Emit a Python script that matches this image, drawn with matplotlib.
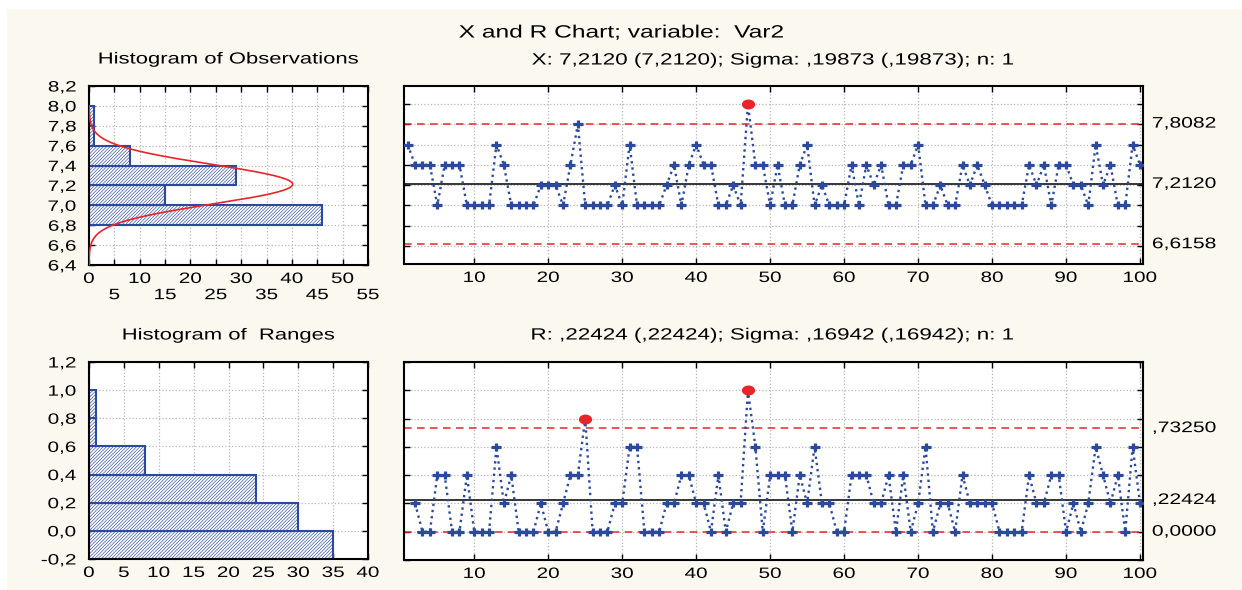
import numpy as np
import matplotlib.pyplot as plt
from matplotlib.patches import Rectangle
from matplotlib.path import Path
from matplotlib.patheffects import AbstractPathEffect
from matplotlib.ticker import FuncFormatter, MultipleLocator
import matplotlib.transforms as mtransforms

plt.rcParams['font.family'] = ['Liberation Sans', 'DejaVu Sans']
plt.rcParams['hatch.linewidth'] = 0.45

# individual observations, samples 1..100
samples = np.arange(1, 101)
values = [7.6, 7.4, 7.4, 7.4, 7.0, 7.4, 7.4, 7.4, 7.0, 7.0,
          7.0, 7.0, 7.6, 7.4, 7.0, 7.0, 7.0, 7.0, 7.2, 7.2,
          7.2, 7.0, 7.4, 7.8, 7.0, 7.0, 7.0, 7.0, 7.2, 7.0,
          7.6, 7.0, 7.0, 7.0, 7.0, 7.2, 7.4, 7.0, 7.4, 7.6,
          7.4, 7.4, 7.0, 7.0, 7.2, 7.0, 8.0, 7.4, 7.4, 7.0,
          7.4, 7.0, 7.0, 7.4, 7.6, 7.0, 7.2, 7.0, 7.0, 7.0,
          7.4, 7.0, 7.4, 7.2, 7.4, 7.0, 7.0, 7.4, 7.4, 7.6,
          7.0, 7.0, 7.2, 7.0, 7.0, 7.4, 7.2, 7.4, 7.2, 7.0,
          7.0, 7.0, 7.0, 7.0, 7.4, 7.2, 7.4, 7.0, 7.4, 7.4,
          7.2, 7.2, 7.0, 7.6, 7.2, 7.4, 7.0, 7.0, 7.6, 7.4]

# moving ranges, samples 2..100
range_samples = np.arange(2, 101)
ranges = [0.2, 0.0, 0.0, 0.4, 0.4, 0.0, 0.0, 0.4, 0.0,
          0.0, 0.0, 0.6, 0.2, 0.4, 0.0, 0.0, 0.0, 0.2, 0.0,
          0.0, 0.2, 0.4, 0.4, 0.8, 0.0, 0.0, 0.0, 0.2, 0.2,
          0.6, 0.6, 0.0, 0.0, 0.0, 0.2, 0.2, 0.4, 0.4, 0.2,
          0.2, 0.0, 0.4, 0.0, 0.2, 0.2, 1.0, 0.6, 0.0, 0.4,
          0.4, 0.4, 0.0, 0.4, 0.2, 0.6, 0.2, 0.2, 0.0, 0.0,
          0.4, 0.4, 0.4, 0.2, 0.2, 0.4, 0.0, 0.4, 0.0, 0.2,
          0.6, 0.0, 0.2, 0.2, 0.0, 0.4, 0.2, 0.2, 0.2, 0.2,
          0.0, 0.0, 0.0, 0.0, 0.4, 0.2, 0.2, 0.4, 0.4, 0.0,
          0.2, 0.0, 0.2, 0.6, 0.4, 0.2, 0.4, 0.0, 0.6, 0.2]

x_center, x_ucl, x_lcl = 7.2120, 7.8082, 6.6158
x_sigma = 0.19873
r_center, r_ucl, r_lcl = 0.22424, 0.73250, 0.0
x_limit_labels = ['7,8082', '7,2120', '6,6158']
r_limit_labels = [',73250', ',22424', '0,0000']

obs_bins = [6.8, 7.0, 7.2, 7.4, 7.6, 7.8]
obs_counts = [46, 15, 29, 8, 1, 1]
range_bins = [-0.2, 0.0, 0.2, 0.4, 0.6, 0.8]
range_counts = [35, 30, 24, 8, 1, 1]

BLUE = '#2B4A9E'
RED = '#E8262A'
CREAM = '#FBF8F0'
GRID = '#B8B8B8'
W, H = 1242, 590
SX = 1.38  # the original screenshot is stretched sideways


class Stretch(AbstractPathEffect):
    """widen a text around its anchor point"""
    def __init__(self, text, sx=SX):
        super().__init__()
        self.text = text
        self.sx = sx

    def draw_path(self, renderer, gc, tpath, affine, rgbFace=None):
        t = self.text
        cx, _ = t.get_transform().transform(t.get_unitless_position())
        widen = mtransforms.Affine2D().translate(-cx, 0).scale(self.sx, 1).translate(cx, 0)
        renderer.draw_path(gc, tpath, affine + widen, rgbFace)


def wide(t):
    t.set_path_effects([Stretch(t)])
    return t


plus_marker = Path([(-SX, 0), (SX, 0), (0, -1), (0, 1)],
                   [Path.MOVETO, Path.LINETO, Path.MOVETO, Path.LINETO])
circ = Path.unit_circle()
dot_marker = Path(circ.vertices * [SX, 1], circ.codes)

fig = plt.figure(figsize=(W / 100, H / 100), dpi=100, facecolor='white')
fig.patches.append(Rectangle((7 / W, 0), 1 - 7 / W, 1 - 9 / H, transform=fig.transFigure,
                             facecolor=CREAM, edgecolor='none', zorder=-10))


def box(l, r, t, b):
    return [l / W, 1 - b / H, (r - l) / W, (b - t) / H]


comma = FuncFormatter(lambda v, p: f"{round(v, 1) + 0.0:.1f}".replace('.', ','))


def style(ax):
    ax.set_facecolor('white')
    for s in ax.spines.values():
        s.set_linewidth(1.5)
        s.set_color('black')
    ax.tick_params(direction='in', length=4, width=1, top=True, right=True,
                   left=True, bottom=True, labelsize=10.8, pad=5)
    ax.tick_params(axis='y', pad=9)
    ax.grid(True, color=GRID, ls=':', lw=0.9)
    ax.set_axisbelow(True)


def control_chart(ax, xs, ys, center, ucl, lcl, labels):
    style(ax)
    ys = np.array(ys)
    ax.axhline(center, color='black', lw=1.1, zorder=2)
    ax.axhline(ucl, color=RED, lw=1.1, ls=(0, (5, 3.5)), zorder=2)
    ax.axhline(lcl, color=RED, lw=1.1, ls=(0, (5, 3.5)), zorder=2)
    ax.plot(xs, ys, color=BLUE, ls=':', lw=1.7, zorder=3)
    out = ys > ucl
    ax.plot(xs[~out], ys[~out], ls='none', marker=plus_marker, ms=7.8, mew=2.3, color=BLUE, zorder=4)
    ax.plot(xs[out], ys[out], ls='none', marker=dot_marker, ms=8.5, color=RED, mec=RED, zorder=5)
    ax.set_xlim(0.5, 100.4)
    ax.set_xticks(np.arange(10, 101, 10))
    ax.tick_params(labelleft=False)
    trans = mtransforms.blended_transform_factory(ax.transAxes, ax.transData)
    for v, lab in zip([ucl, center, lcl], labels):
        wide(ax.text(1.012, v, lab, transform=trans, ha='left', va='center', fontsize=11))


# X chart
ax_x = fig.add_axes(box(404, 1143, 86, 264))
control_chart(ax_x, samples, values, x_center, x_ucl, x_lcl, x_limit_labels)
ax_x.set_ylim(6.42, 8.18)
ax_x.yaxis.set_major_locator(MultipleLocator(0.2))

# R chart
ax_r = fig.add_axes(box(404, 1143, 362, 560))
control_chart(ax_r, range_samples, ranges, r_center, r_ucl, r_lcl, r_limit_labels)
ax_r.set_ylim(-0.2, 1.2)
ax_r.yaxis.set_major_locator(MultipleLocator(0.2))

# histogram of observations with fitted normal curve
ax_ho = fig.add_axes(box(89, 368, 86, 265))
style(ax_ho)
ax_ho.barh(obs_bins, obs_counts, height=0.2, align='edge', color='white',
           edgecolor=BLUE, hatch='//////////', lw=1.5, zorder=2)
yy = np.linspace(6.4, 8.0, 300)
curve = 100 * 0.2 / (x_sigma * np.sqrt(2 * np.pi)) * np.exp(-0.5 * ((yy - x_center) / x_sigma) ** 2)
ax_ho.plot(curve, yy, color=RED, lw=1.2, zorder=3)
ax_ho.set_xlim(0, 55)
ax_ho.set_ylim(6.4, 8.2)
ax_ho.yaxis.set_major_locator(MultipleLocator(0.2))
ax_ho.yaxis.set_major_formatter(comma)
ticks = np.arange(0, 56, 5)
ax_ho.set_xticks(ticks)
ax_ho.set_xticklabels([str(t) if i % 2 == 0 else '\n' + str(t) for i, t in enumerate(ticks)])

# histogram of ranges
ax_hr = fig.add_axes(box(89, 368, 362, 559))
style(ax_hr)
ax_hr.barh(range_bins, range_counts, height=0.2, align='edge', color='white',
           edgecolor=BLUE, hatch='//////////', lw=1.5, zorder=2)
ax_hr.set_xlim(0, 40)
ax_hr.set_ylim(-0.2, 1.2)
ax_hr.xaxis.set_major_locator(MultipleLocator(5))
ax_hr.yaxis.set_major_locator(MultipleLocator(0.2))
ax_hr.yaxis.set_major_formatter(comma)

for ax in (ax_x, ax_r, ax_ho, ax_hr):
    for lab in ax.get_xticklabels() + ax.get_yticklabels():
        wide(lab)

# titles
wide(fig.text(0.5, 1 - 33 / H, 'X and R Chart; variable:  Var2', ha='center', va='center', fontsize=12.8))
wide(fig.text((404 + 1143) / 2 / W, 1 - 60 / H, 'X: 7,2120 (7,2120); Sigma: ,19873 (,19873); n: 1',
              ha='center', va='center', fontsize=11.7))
wide(fig.text((89 + 368) / 2 / W, 1 - 59 / H, 'Histogram of Observations',
              ha='center', va='center', fontsize=11.5))
wide(fig.text((404 + 1143) / 2 / W, 1 - 335 / H, 'R: ,22424 (,22424); Sigma: ,16942 (,16942); n: 1',
              ha='center', va='center', fontsize=11.7))
wide(fig.text((89 + 368) / 2 / W, 1 - 335 / H, 'Histogram of  Ranges',
              ha='center', va='center', fontsize=11.5))

fig.savefig('out.png', dpi=100, facecolor=fig.get_facecolor())
